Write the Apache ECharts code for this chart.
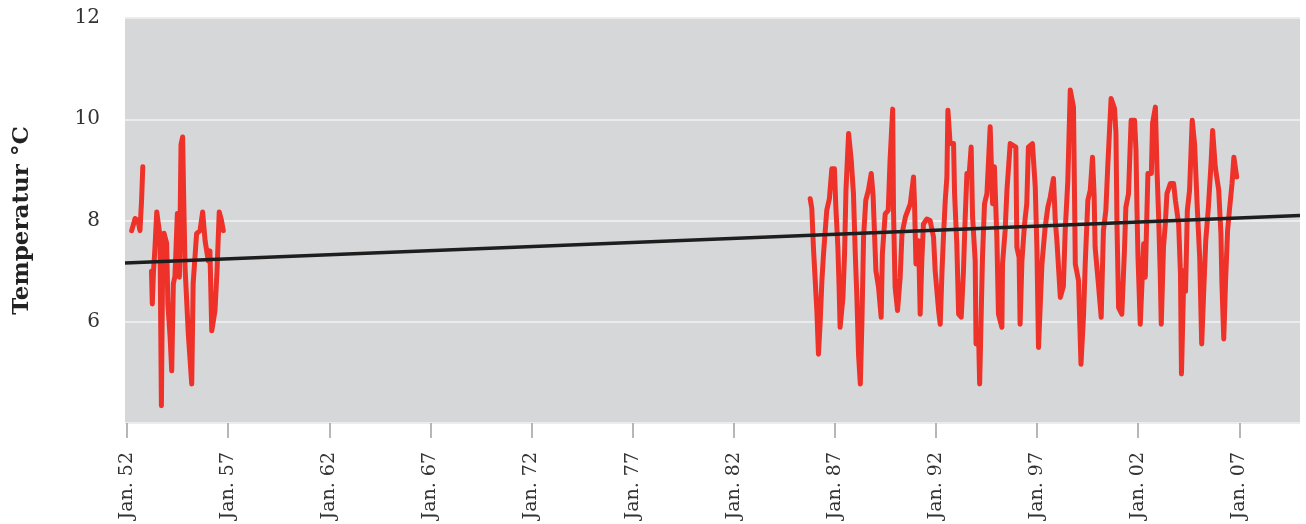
<!DOCTYPE html>
<html><head><meta charset="utf-8">
<script src="https://cdn.jsdelivr.net/npm/echarts@6/dist/echarts.min.js"></script>
<style>html,body{margin:0;padding:0;background:#fff}#c{width:1306px;height:524px}</style>
</head><body><div id="c"></div>
<script>
// decimal years of the readings (null temp = gap in record)
var years = [
 1952.23,1952.40,1952.54,1952.64,1952.72,1952.78,
 1953.00,
 1953.21,1953.25,1953.31,1953.38,1953.47,1953.56,1953.63,1953.70,1953.77,1953.83,1953.96,
 1954.02,1954.13,1954.21,1954.29,1954.37,1954.49,1954.59,1954.67,1954.75,1954.80,1954.87,
 1955.03,1955.20,1955.27,1955.44,1955.61,1955.74,1955.86,1956.02,1956.10,1956.19,1956.27,
 1956.35,1956.45,1956.56,1956.67,1956.76,
 1970.00,
 1985.78,1985.86,1985.94,1986.03,1986.11,1986.19,1986.27,1986.36,1986.44,1986.60,1986.73,1986.85,1986.98,
 1987.05,1987.15,1987.21,1987.26,1987.40,1987.48,1987.55,1987.68,1987.81,1987.92,
 1988.01,1988.09,1988.17,1988.26,1988.34,1988.42,1988.53,1988.66,1988.80,1988.89,
 1989.03,1989.16,1989.29,1989.35,1989.49,1989.64,1989.73,1989.86,1989.90,1989.98,
 1990.10,1990.23,1990.32,1990.49,1990.61,1990.73,1990.89,1990.94,
 1991.01,1991.14,1991.22,1991.30,1991.38,1991.55,1991.71,1991.88,1991.96,
 1992.13,1992.21,1992.30,1992.37,1992.46,1992.54,1992.59,1992.70,1992.87,1992.92,
 1993.03,1993.12,1993.25,1993.36,1993.44,1993.53,1993.64,1993.74,1993.81,1993.94,1993.98,
 1994.11,1994.16,1994.24,1994.30,1994.40,1994.52,1994.68,1994.80,1994.89,
 1995.01,1995.09,1995.26,1995.29,1995.42,1995.51,1995.67,1995.95,
 1996.00,1996.11,1996.16,1996.25,1996.38,1996.49,1996.57,1996.77,1996.91,1996.99,
 1997.07,1997.24,1997.40,1997.53,1997.65,1997.81,1997.90,1997.98,
 1998.15,1998.30,1998.39,1998.52,1998.64,1998.80,1998.89,
 1999.05,1999.17,1999.30,1999.38,1999.51,1999.63,1999.74,1999.82,1999.87,
 2000.02,2000.17,2000.28,2000.40,2000.50,2000.59,2000.66,2000.83,2000.90,2000.95,
 2001.03,2001.19,2001.32,2001.39,2001.52,2001.65,2001.82,2001.89,2001.94,2001.99,
 2002.10,2002.27,2002.35,2002.48,2002.65,2002.71,2002.85,2002.93,
 2003.01,2003.09,2003.14,2003.25,2003.34,2003.42,2003.59,2003.75,2003.84,
 2004.00,2004.09,2004.14,2004.26,2004.34,2004.43,2004.54,2004.67,2004.79,2004.92,
 2005.04,2005.14,2005.23,2005.34,2005.47,2005.60,2005.68,2005.81,2005.98,
 2006.09,2006.14,2006.23,2006.32,2006.42,2006.51,2006.64,2006.73,2006.87
];
var temps = [
 7.8,8.04,8.0,7.8,8.4,9.06,
 null,
 7.0,6.35,7.0,7.45,8.17,7.9,7.7,4.34,7.55,7.75,7.55,
 6.35,5.7,5.03,6.75,6.9,8.14,6.88,9.5,9.65,8.5,7.07,
 5.76,4.77,6.75,7.74,7.8,8.17,7.6,7.2,7.4,5.82,5.85,
 6.22,7.0,8.17,8.0,7.8,
 null,
 8.43,8.24,7.47,6.81,6.22,5.36,5.96,6.81,7.34,8.2,8.43,9.02,9.02,
 8.26,7.47,6.68,5.89,6.48,7.34,8.6,9.72,9.19,8.53,
 7.34,6.48,5.36,4.77,6.02,7.67,8.4,8.6,8.93,8.5,
 7.01,6.68,6.09,7.34,8.13,8.2,9.19,10.2,8.2,6.68,
 6.22,6.88,7.74,8.07,8.2,8.33,8.86,8.33,
 7.14,7.6,6.15,7.2,7.93,8.03,8.0,7.67,7.01,
 6.22,5.95,7.01,7.67,8.4,8.86,10.18,9.52,9.52,8.53,
 7.54,6.15,6.09,7.01,8.0,8.93,8.9,9.45,8.07,7.2,5.56,
 5.69,4.77,6.22,7.27,8.33,8.53,9.85,8.33,9.06,
 7.67,6.15,5.89,7.14,7.8,8.6,9.52,9.45,
 7.47,7.27,5.95,7.2,7.93,8.33,9.45,9.52,8.66,7.47,
 5.49,7.14,7.87,8.26,8.46,8.83,8.0,7.6,
 6.48,6.7,7.8,8.79,10.58,10.24,7.14,
 6.81,5.16,6.15,7.14,8.4,8.6,9.25,8.5,7.47,
 6.8,6.09,7.8,8.2,9.12,9.1,10.41,10.21,9.72,7.93,
 6.28,6.15,7.41,8.26,8.53,9.98,9.98,9.39,8.2,7.27,
 5.95,7.54,6.88,8.93,8.93,9.92,10.24,8.99,
 8.07,6.94,5.95,7.47,7.93,8.53,8.73,8.73,8.4,
 7.93,6.94,4.97,7.01,6.6,8.2,8.6,9.98,9.5,8.26,
 7.27,5.56,6.5,7.6,8.26,9.12,9.78,9.06,8.6,
 7.74,6.75,5.66,6.8,7.8,8.2,8.73,9.25,8.86
];
// linear trend end points
var trendYears = [1951.9, 2010.0];
var trendTemps = [7.16, 8.1];
var tickYears = [1952,1957,1962,1967,1972,1977,1982,1987,1992,1997,2002,2007];
var yTicks = [6,8,10,12];
var yTitle = 'Temperatur °C';

var tempData = years.map(function(y,i){ return [y, temps[i] === null ? '-' : temps[i]]; });
var trendData = trendYears.map(function(y,i){ return [y, trendTemps[i]]; });
var serif = '"DejaVu Serif", "Liberation Serif", serif';

var chart = echarts.init(document.getElementById('c'), null, {renderer:'canvas'});
chart.setOption({
  animation: false,
  backgroundColor: '#ffffff',
  grid: {left:125, right:6, top:18, bottom:101, show:true, backgroundColor:'#d6d7d9', borderWidth:0},
  xAxis: {
    type:'value', min:1951.9, max:2010.0,
    axisLine:{show:false},
    axisTick:{show:true, length:15, customValues:tickYears, lineStyle:{color:'#a0a0a0', width:1.5}},
    axisLabel:{customValues:tickYears, rotate:90, margin:29, fontFamily:serif, fontSize:19, color:'#333',
      formatter:function(v){ var n=Math.round(v)%100; return 'Jan. ' + (n<10?'0':'')+n; }},
    splitLine:{show:false}
  },
  yAxis: {
    type:'value', min:4, max:12, interval:2,
    name: yTitle, nameLocation:'middle', nameGap:91, nameRotate:90,
    nameTextStyle:{fontFamily:serif, fontSize:23, fontWeight:'bold', color:'#222'},
    axisLine:{show:false}, axisTick:{show:false},
    axisLabel:{margin:25, fontFamily:serif, fontSize:20, color:'#333',
      formatter:function(v){ return yTicks.indexOf(v) >= 0 ? String(v) : ''; }},
    splitLine:{show:true, lineStyle:{color:'#ececec', width:2}}
  },
  series: [
    {type:'line', data:tempData, showSymbol:false, connectNulls:false,
     lineStyle:{color:'#ee3129', width:5, join:'round', cap:'round'}, z:2},
    {type:'line', data:trendData, showSymbol:false,
     lineStyle:{color:'#1e1e1e', width:3.5}, z:3}
  ]
});
</script></body></html>
